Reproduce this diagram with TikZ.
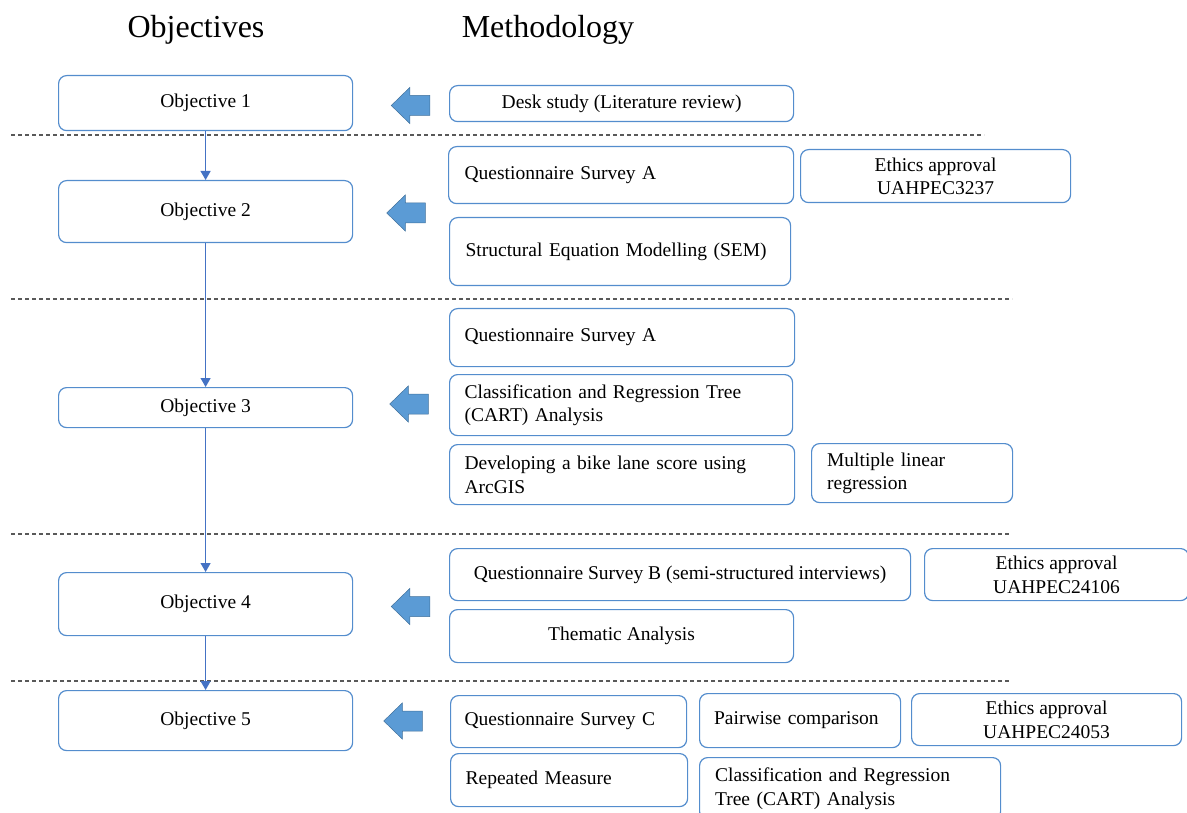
\documentclass[tikz,border=0pt]{standalone}
\usepackage{fontspec}
\setmainfont{Liberation Serif}
\usetikzlibrary{arrows.meta}

\definecolor{bordblue}{RGB}{84,141,205}
\definecolor{linkblue}{RGB}{68,114,196}
\definecolor{arrowblue}{RGB}{91,155,213}
\definecolor{arrowedge}{RGB}{65,113,156}
\definecolor{dashgray}{RGB}{89,89,89}

\newcommand\boxfont{\fontsize{19.5}{23.5}\selectfont}
\newcommand\titlefont{\fontsize{32}{38}\selectfont}

\tikzset{
  mbox/.style={draw=bordblue, line width=1.2pt, rounded corners=8pt, fill=white,
    font=\boxfont, inner ysep=0pt, anchor=north west},
  cbox/.style={mbox, align=center, inner xsep=0pt},
  lbox/.style={mbox, align=left},
  objlink/.style={draw=linkblue, line width=1.1pt, -{Triangle[width=10pt,length=9pt]}},
  sepline/.style={draw=dashgray, line width=1.1pt, dash pattern=on 4pt off 3pt},
  title/.style={font=\titlefont, anchor=base},
  blockarrow/.pic={
    \path[fill=arrowblue, draw=arrowedge, line width=0.5pt]
      (-19.25,0) -- (-0.75,-18) -- (-0.75,-10) -- (19.25,-10) -- (19.25,10)
      -- (-0.75,10) -- (-0.75,18) -- cycle;
  }
}

\begin{document}
\begin{tikzpicture}[x=1pt, y=-1pt]
\useasboundingbox (0,0) rectangle (1187,813);
\clip (0,0) rectangle (1187,813);

% column headings
\node[title] (hobj) at (196,38) {Objectives};
\node[title] (hmeth) at (548,38) {Methodology};

% dashed separators between the stages
\coordinate (s1a) at (11,135);  \coordinate (s1b) at (984,135);
\coordinate (s2a) at (11,299);  \coordinate (s2b) at (1012,299);
\coordinate (s3a) at (11,534);  \coordinate (s3b) at (1010,534);
\coordinate (s4a) at (11,681);  \coordinate (s4b) at (1010,681);
\draw[sepline] (s1a) -- (s1b);
\draw[sepline] (s2a) -- (s2b);
\draw[sepline] (s3a) -- (s3b);
\draw[sepline] (s4a) -- (s4b);

% objectives
\node[cbox, minimum width=294pt, minimum height=55pt] (o1) at (58,75)  {Objective 1};
\node[cbox, minimum width=294pt, minimum height=62pt] (o2) at (58,180) {Objective 2};
\node[cbox, minimum width=294pt, minimum height=40pt] (o3) at (58,387) {Objective 3};
\node[cbox, minimum width=294pt, minimum height=63pt] (o4) at (58,572) {Objective 4};
\node[cbox, minimum width=294pt, minimum height=60pt] (o5) at (58,690) {Objective 5};

\draw[objlink] (o1.south) -- (o2.north);
\draw[objlink] (o2.south) -- (o3.north);
\draw[objlink] (o3.south) -- (o4.north);
\draw[objlink] (o4.south) -- (o5.north);

% block arrows from methods to objectives
\pic at (410.5,105.5) {blockarrow};
\pic at (406,213)     {blockarrow};
\pic at (409,404)     {blockarrow};
\pic at (410.5,606.5) {blockarrow};
\pic at (403,721)     {blockarrow};

% stage 1
\node[cbox, minimum width=344pt, minimum height=36pt] (desk) at (449,85)
  {Desk study (Literature review)};

% stage 2
\node[lbox, inner xsep=16pt, text width=313pt, minimum height=57pt] (qa2) at (448,146)
  {Questionnaire Survey A};
\node[cbox, minimum width=270pt, minimum height=53pt] (eth1) at (800,149)
  {Ethics approval\\UAHPEC3237};
\node[lbox, inner xsep=16pt, text width=309pt, minimum height=68pt] (sem) at (449,217)
  {Structural Equation Modelling (SEM)};

% stage 3
\node[lbox, inner xsep=15pt, text width=315pt, minimum height=58pt] (qa3) at (449,308)
  {Questionnaire Survey A};
\node[lbox, inner xsep=15pt, text width=313pt, minimum height=61pt] (cart) at (449,374)
  {Classification and Regression Tree\\(CART) Analysis};
\node[lbox, inner xsep=15pt, text width=315pt, minimum height=60pt] (dev) at (449,444)
  {Developing a bike lane score using\\ArcGIS};
\node[lbox, inner xsep=15.5pt, text width=170pt, minimum height=59pt] (mlr) at (811,443)
  {Multiple linear\\regression};

% stage 4
\node[cbox, minimum width=461pt, minimum height=52pt] (qsb) at (449,548)
  {Questionnaire Survey B (semi-structured interviews)};
\node[cbox, minimum width=264pt, minimum height=52pt] (eth2) at (924,548)
  {Ethics approval\\UAHPEC24106};
\node[cbox, minimum width=344pt, minimum height=53pt] (them) at (449,609)
  {Thematic Analysis};

% stage 5
\node[lbox, inner xsep=14pt, text width=208pt, minimum height=52pt] (qsc) at (450,695)
  {Questionnaire Survey C};
\node[lbox, inner xsep=14.5pt, text width=172pt, minimum height=54pt] (pair) at (699,693)
  {Pairwise comparison};
\node[cbox, minimum width=270pt, minimum height=52pt] (eth3) at (911,693)
  {Ethics approval\\UAHPEC24053};
\node[lbox, inner xsep=15pt, text width=207pt, minimum height=53pt] (rep) at (450,753)
  {Repeated Measure};
\node[lbox, inner xsep=15.5pt, text width=270pt, minimum height=62pt] (cart2) at (699,757)
  {Classification and Regression\\Tree (CART) Analysis};
\end{tikzpicture}
\end{document}
